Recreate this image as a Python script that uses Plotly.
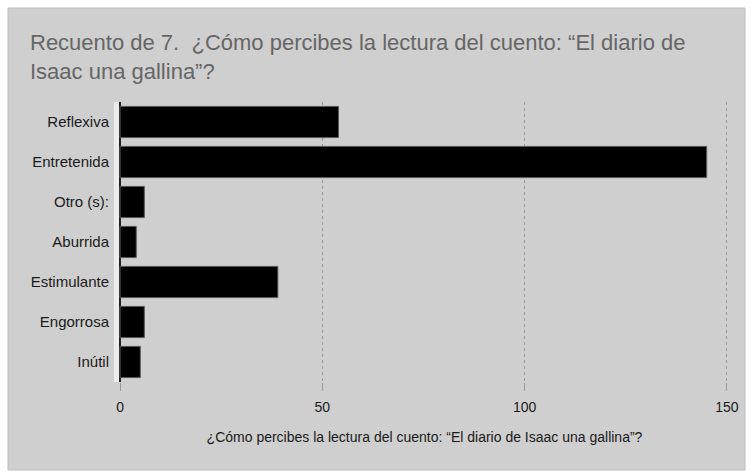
import plotly.graph_objects as go

categories = ["Reflexiva", "Entretenida", "Otro (s):", "Aburrida", "Estimulante", "Engorrosa", "Inútil"]
values = [54, 145, 6, 4, 39, 6, 5]
x_ticks = [0, 50, 100, 150]
title_text = "Recuento de 7.  ¿Cómo percibes la lectura del cuento: “El diario de<br>Isaac una gallina”?"
x_title = "¿Cómo percibes la lectura del cuento: “El diario de Isaac una gallina”?"

W, H = 751, 474
ml, mr, mt, mb = 114, 16, 102, 92
pw, ph = W - ml - mr, H - mt - mb

def px_x(p):
    return (p - ml) / pw

def px_y(p):
    return (H - mb - p) / ph

fig = go.Figure()
fig.add_trace(go.Bar(
    y=categories, x=values, orientation="h",
    marker=dict(color="#000000", line=dict(color="#5a5a5a", width=1)),
    hoverinfo="x+y",
))

shapes = [
    dict(type="rect", xref="paper", yref="paper",
         x0=px_x(8), x1=px_x(745), y0=px_y(470), y1=px_y(8),
         fillcolor="#cfcfcf", line=dict(color="#bdbdbd", width=1), layer="below"),
    dict(type="rect", xref="x", yref="paper", x0=-1.5, x1=0, y0=0, y1=1.0,
         fillcolor="#ececec", line=dict(width=0), layer="below"),
]

fig.update_layout(
    width=W, height=H,
    margin=dict(l=ml, r=mr, t=mt, b=mb),
    paper_bgcolor="#ffffff",
    plot_bgcolor="rgba(0,0,0,0)",
    shapes=shapes,
    bargap=0.22,
    showlegend=False,
    font=dict(family="Liberation Sans, Arial, sans-serif", size=14, color="#1a1a1a"),
    title=dict(text=title_text, x=30 / W, xanchor="left", xref="container",
               y=1 - 50 / H, yanchor="top", yref="container",
               font=dict(family="Liberation Sans, Arial, sans-serif", size=22, color="#666666")),
    xaxis=dict(range=[-1.5, 152], tickvals=x_ticks, showgrid=True,
               gridcolor="#9a9a9a", griddash="dot", gridwidth=1,
               zeroline=True, zerolinecolor="#222222", zerolinewidth=1.5,
               ticks="outside", ticklen=8, tickcolor="#9a9a9a",
               ticklabelstandoff=4, showline=False, fixedrange=True,
               tickfont=dict(size=14),
               title=dict(text=x_title, standoff=18,
                          font=dict(size=14, color="#1a1a1a"))),
    yaxis=dict(autorange="reversed", showgrid=False, ticks="", showline=False,
               ticklabelstandoff=4, fixedrange=True, tickfont=dict(size=15)),
)

fig.write_html("out.html")
